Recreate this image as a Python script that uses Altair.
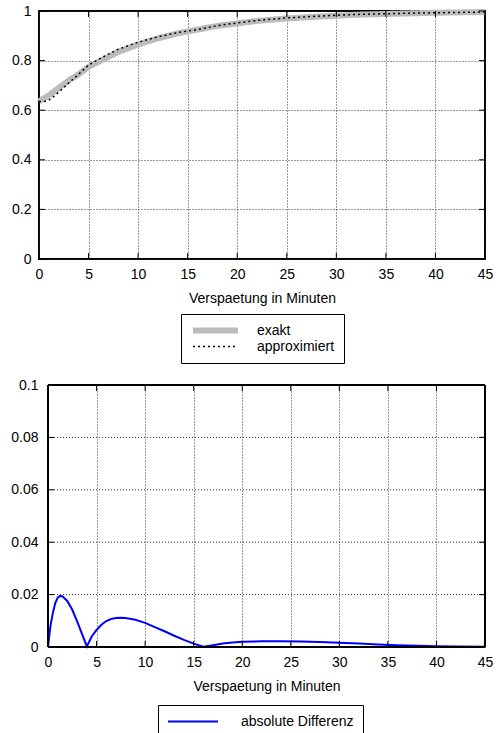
import altair as alt
import pandas as pd

# ---------------- data ----------------
minuten = [0, 0.5, 1, 1.5, 2, 2.5, 3, 3.5, 4, 5, 6, 7, 8, 9, 10, 12, 14, 16, 18, 20,
           22, 25, 28, 30, 32, 35, 38, 40, 42, 45]
exakt = [0.635, 0.648, 0.660, 0.675, 0.690, 0.705, 0.720, 0.732, 0.745, 0.775, 0.795,
         0.815, 0.835, 0.850, 0.865, 0.890, 0.910, 0.925, 0.940, 0.950, 0.960, 0.970,
         0.977, 0.981, 0.985, 0.988, 0.991, 0.993, 0.994, 0.996]
approximiert = [0.635, 0.635, 0.641, 0.656, 0.673, 0.691, 0.710, 0.727, 0.745, 0.782,
                0.805, 0.826, 0.846, 0.860, 0.874, 0.896, 0.913, 0.925, 0.941, 0.952,
                0.962, 0.972, 0.979, 0.983, 0.986, 0.989, 0.9915, 0.993, 0.994, 0.996]

minuten_diff = [0, 0.25, 0.5, 0.75, 1, 1.25, 1.5, 2, 2.5, 3, 3.5, 4, 4.5, 5, 5.5, 6,
                6.5, 7, 7.5, 8, 9, 10, 11, 12, 13, 14, 15, 16, 17, 18, 19, 20, 22, 24,
                26, 28, 30, 32, 34, 36, 38, 40, 42, 45]
differenz = [0, 0.008, 0.013, 0.0168, 0.0188, 0.0195, 0.0193, 0.0175, 0.0142, 0.0098,
             0.005, 0.0002, 0.004, 0.0065, 0.0085, 0.0099, 0.0107, 0.0111, 0.0112,
             0.0111, 0.0104, 0.0092, 0.0076, 0.006, 0.0043, 0.0027, 0.0013, 0.0001,
             0.0007, 0.0013, 0.0017, 0.002, 0.0022, 0.0022, 0.0021, 0.0019, 0.0016,
             0.0013, 0.001, 0.0007, 0.0005, 0.0003, 0.0002, 0.0001]

x_ticks = [0, 5, 10, 15, 20, 25, 30, 35, 40, 45]
y_ticks_oben = [0, 0.2, 0.4, 0.6, 0.8, 1]
y_ticks_unten = [0, 0.02, 0.04, 0.06, 0.08, 0.1]
x_domain = [0, 45]
y_domain_oben = [0, 1]
y_domain_unten = [0, 0.1]
serien_oben = ["exakt", "approximiert"]
serie_unten = ["absolute Differenz"]
x_titel = "Verspaetung in Minuten"

FONT = "Liberation Sans"
W1, H1 = 446, 248
W2, H2 = 446, 262      # bottom panel area; its frame starts OFF px further right
OFF = 9
TICK = 6
GRID = dict(color="#333333", strokeDash=[1, 2], strokeWidth=1)

df_top = pd.concat([
    pd.DataFrame({"Minuten": minuten, "Wert": exakt, "Serie": serien_oben[0]}),
    pd.DataFrame({"Minuten": minuten, "Wert": approximiert, "Serie": serien_oben[1]}),
], ignore_index=True)
df_bot = pd.DataFrame({"Minuten": minuten_diff, "Wert": differenz, "Serie": serie_unten[0]})


def tick_layers(xt, yt, W, H, xscale, yscale, left=0):
    dx = pd.DataFrame({"Minuten": xt})
    dy = pd.DataFrame({"Wert": yt})
    xs = alt.X("Minuten:Q", scale=xscale)
    ys = alt.Y("Wert:Q", scale=yscale)
    base_x = alt.Chart(dx).mark_rule(color="black", strokeWidth=1)
    base_y = alt.Chart(dy).mark_rule(color="black", strokeWidth=1)
    return [
        base_x.encode(x=xs, y=alt.value(H), y2=alt.value(H - TICK)),
        base_x.encode(x=xs, y=alt.value(0), y2=alt.value(TICK)),
        base_y.encode(y=ys, x=alt.value(left), x2=alt.value(left + TICK)),
        base_y.encode(y=ys, x=alt.value(W - TICK), x2=alt.value(W)),
    ]


LEG_COMMON = dict(title=None, orient="none", strokeColor="black", padding=9,
                  symbolType="stroke", clipHeight=15,
                  labelFontSize=14, rowPadding=1)

# ---------------- top panel ----------------
xs1 = alt.Scale(domain=x_domain, nice=False, zero=False)
ys1 = alt.Scale(domain=y_domain_oben, nice=False)
leg1 = alt.Legend(legendX=142, legendY=303, symbolSize=2025, labelOffset=16, **LEG_COMMON)

lines_top = alt.Chart(df_top).mark_line(strokeCap="butt").encode(
    x=alt.X("Minuten:Q", scale=xs1,
            axis=alt.Axis(values=x_ticks, title=x_titel)),
    y=alt.Y("Wert:Q", scale=ys1,
            axis=alt.Axis(values=y_ticks_oben, format="~g", title=None)),
    color=alt.Color("Serie:N", sort=serien_oben,
                    scale=alt.Scale(domain=serien_oben, range=["#bbbbbb", "#000000"]),
                    legend=leg1),
    strokeDash=alt.StrokeDash("Serie:N", sort=serien_oben,
                              scale=alt.Scale(domain=serien_oben, range=[[1, 0], [2, 3]]),
                              legend=leg1),
    strokeWidth=alt.StrokeWidth("Serie:N", sort=serien_oben,
                                scale=alt.Scale(domain=serien_oben, range=[6, 1.5]),
                                legend=leg1),
)

top = alt.layer(lines_top, *tick_layers(x_ticks, y_ticks_oben, W1, H1, xs1, ys1)).properties(
    width=W1, height=H1)

# ---------------- bottom panel ----------------
xs2 = alt.Scale(domain=x_domain, nice=False, zero=False, range=[OFF, W2])
ys2 = alt.Scale(domain=y_domain_unten, nice=False)
leg2 = alt.Legend(legendX=119, legendY=320, symbolStrokeWidth=2, symbolSize=2500,
                  labelOffset=22, **LEG_COMMON)

grid_bot = alt.Chart(pd.DataFrame({"Wert": y_ticks_unten})).mark_rule(**GRID).encode(
    y=alt.Y("Wert:Q", scale=ys2),
    x=alt.datum(x_domain[0], scale=xs2), x2=alt.datum(x_domain[1]),
)

lines_bot = alt.Chart(df_bot).mark_line(strokeWidth=2).encode(
    x=alt.X("Minuten:Q", scale=xs2,
            axis=alt.Axis(values=x_ticks, title=x_titel, titleX=(OFF + W2) / 2)),
    y=alt.Y("Wert:Q", scale=ys2,
            axis=alt.Axis(values=y_ticks_unten, format="~g", title=None, grid=False,
                          labelPadding=1)),
    color=alt.Color("Serie:N", scale=alt.Scale(domain=serie_unten, range=["#0000ff"]),
                    legend=leg2),
)

frame_v = alt.Chart(pd.DataFrame({"Minuten": x_domain})).mark_rule(
    color="black", strokeWidth=2).encode(
    x=alt.X("Minuten:Q", scale=xs2),
    y=alt.datum(y_domain_unten[0], scale=ys2), y2=alt.datum(y_domain_unten[1]),
)
frame_h = alt.Chart(pd.DataFrame({"Wert": y_domain_unten})).mark_rule(
    color="black", strokeWidth=2).encode(
    y=alt.Y("Wert:Q", scale=ys2),
    x=alt.datum(x_domain[0], scale=xs2), x2=alt.datum(x_domain[1]),
)

bot = alt.layer(
    grid_bot, lines_bot,
    *tick_layers(x_ticks, y_ticks_unten, W2, H2, xs2, ys2, left=OFF),
    frame_v, frame_h,
).properties(width=W2, height=H2, view=alt.ViewBackground(stroke="transparent"))

chart = alt.concat(top, bot, columns=1, spacing=12, bounds="full", align="none").resolve_scale(
    color="independent", strokeDash="independent", strokeWidth="independent"
).resolve_legend(
    color="independent", strokeDash="independent", strokeWidth="independent"
).properties(
    padding={"left": 9, "top": -2, "right": 0, "bottom": 0}
).configure(
    font=FONT,
).configure_view(
    stroke="black", strokeWidth=2
).configure_axis(
    domain=False, ticks=False, grid=True, gridColor="#333333", gridDash=[1, 2],
    gridWidth=1, labelFont=FONT, labelFontSize=14, labelColor="black",
    labelPadding=8, labelFlush=False, titleFont=FONT, titleFontSize=14,
    titleFontWeight="normal", titleColor="black", titlePadding=10,
).configure_legend(
    labelFont=FONT, labelColor="black",
)

chart.save("out.html", embed_options={"renderer": "svg", "actions": False})
